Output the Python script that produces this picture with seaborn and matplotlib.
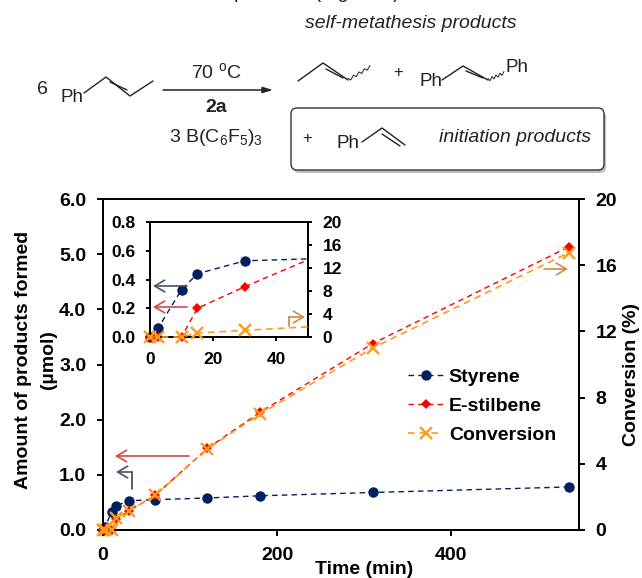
import seaborn as sns
import matplotlib.pyplot as plt
import pandas as pd
from matplotlib.patches import FancyBboxPatch, Rectangle

time_min = [0, 2.5, 10, 15, 30, 60, 120, 180, 310, 535]
styrene = [0.0, 0.06, 0.33, 0.44, 0.53, 0.55, 0.58, 0.62, 0.68, 0.78]
stilbene = [0.0, 0.0, 0.0, 0.2, 0.35, 0.63, 1.48, 2.13, 3.38, 5.13]
conversion = [0.0, 0.0, 0.0, 0.7, 1.15, 2.1, 4.9, 7.0, 11.0, 16.75]

NAVY = '#002060'
RED = '#ff0000'
ORANGE = '#ff9a1a'
FONT = ['Liberation Sans', 'DejaVu Sans']

sns.set_theme(style='white')
plt.rcParams['font.family'] = FONT
plt.rcParams['font.weight'] = 'bold'
plt.rcParams['axes.labelweight'] = 'bold'

W, H = 642, 578
df = pd.DataFrame({'t': time_min, 'styrene': styrene, 'stilbene': stilbene, 'conv': conversion})


def box(x0, y0, x1, y1):
    return [x0 / W, 1 - y1 / H, (x1 - x0) / W, (y1 - y0) / H]


def draw_series(ax, ax_r):
    sns.lineplot(data=df, x='t', y='styrene', ax=ax, color=NAVY, marker='o', markersize=7.5,
                 markeredgewidth=0, linewidth=1, linestyle=(0, (4, 3)), label='Styrene', clip_on=False, zorder=3)
    sns.lineplot(data=df, x='t', y='stilbene', ax=ax, color=RED, marker='D', markersize=5,
                 markeredgewidth=0, linewidth=1, linestyle=(0, (4, 3)), label='E-stilbene', clip_on=False, zorder=4)
    sns.lineplot(data=df, x='t', y='conv', ax=ax_r, color=ORANGE, marker='x', markersize=8,
                 markeredgewidth=1.7, markeredgecolor=ORANGE, linewidth=1.2, linestyle=(0, (4, 3)), label='Conversion',
                 clip_on=False, zorder=5)


def style_axes(ax, ax_r, size, length, pad):
    for a in (ax, ax_r):
        for s in a.spines.values():
            s.set_visible(True)
            s.set_linewidth(1.4)
            s.set_color('black')
        a.tick_params(axis='both', which='major', direction='out', length=length, width=1.4, labelsize=size, pad=pad,
                      color='black', labelcolor='black', left=a is ax, right=a is ax_r, bottom=a is ax)
        a.set_xlabel('')
        a.set_ylabel('')
        a.grid(False)
        a.patch.set_alpha(0)


fig = plt.figure(figsize=(W / 100, H / 100), dpi=100, facecolor='white')

# main plot
ax = fig.add_axes(box(103, 199, 579, 530))
ax_r = ax.twinx()
draw_series(ax, ax_r)
ax.set_xlim(0, 547)
ax.set_ylim(0, 6)
ax_r.set_ylim(0, 20)
ax.set_xticks([0, 200, 400])
ax.set_yticks([0, 1, 2, 3, 4, 5, 6])
ax.set_yticklabels(['%.1f' % v for v in [0, 1, 2, 3, 4, 5, 6]])
ax_r.set_yticks([0, 4, 8, 12, 16, 20])
handles = ax.get_legend_handles_labels()
handles_r = ax_r.get_legend_handles_labels()
ax_r.get_legend().remove()
ax.get_legend().remove()
style_axes(ax, ax_r, 14, 4, 8)
ax_r.legend(handles[0] + handles_r[0], handles[1] + handles_r[1], loc='upper left',
            bbox_to_anchor=((408 - 103) / 476, 1 - (368 - 199) / 331), frameon=False, fontsize=14,
            labelspacing=0.6, handlelength=1.8, handletextpad=0.3, borderpad=0, borderaxespad=0,
            labelcolor='black')

# inset
ins = fig.add_axes(box(150, 222, 308, 337))
ins_r = ins.twinx()
draw_series(ins, ins_r)
ins.get_legend().remove()
ins_r.get_legend().remove()
ins.set_xlim(0, 50)
ins.set_ylim(0, 0.8)
ins_r.set_ylim(0, 20)
ins.set_xticks([0, 20, 40])
ins.set_yticks([0, 0.2, 0.4, 0.6, 0.8])
ins.set_yticklabels(['%.1f' % v for v in [0, 0.2, 0.4, 0.6, 0.8]])
ins_r.set_yticks([0, 4, 8, 12, 16, 20])
style_axes(ins, ins_r, 12.5, 3, 7.5)
# stop the lines at the right edge, markers at zero still stick out left and below
for a in (ins, ins_r):
    for line in a.get_lines():
        line.set_clip_on(True)
        line.set_clip_path(Rectangle((-0.1, -0.1), 1.1, 1.2, transform=a.transAxes))

# reaction scheme, axis titles and callout arrows, pixel coordinates
ov = fig.add_axes([0, 0, 1, 1], zorder=10)
ov.set_xlim(0, W)
ov.set_ylim(H, 0)
ov.axis('off')

ov.text(364, 569, 'Time (min)', fontsize=14, fontweight='bold', ha='center', va='center', color='black')
ov.text(24, 360, 'Amount of products formed', fontsize=14, fontweight='bold', rotation=90, ha='center', va='center', color='black')
ov.text(49, 360, '(µmol)', fontsize=14, fontweight='bold', rotation=90, ha='center', va='center', color='black')
ov.text(631, 375, 'Conversion (%)', fontsize=14, fontweight='bold', rotation=90, ha='center', va='center', color='black')


def bonds(*pts, color='#222222', lw=1.0):
    ov.plot([p[0] for p in pts], [p[1] for p in pts], color=color, lw=lw, solid_capstyle='round')


def label(x, y, s, size=14, **kw):
    ov.text(x, y, s, fontsize=size, ha=kw.pop('ha', 'center'), va='center', color='#222222',
            fontweight=kw.pop('fontweight', 'normal'), **kw)


def wavy(x0, y0, x1, y1):
    n = 8
    xs = [x0 + (x1 - x0) * i / n for i in range(n + 1)]
    ys = [y0 + (y1 - y0) * i / n + (1.6 if i % 2 else -1.6) for i in range(n + 1)]
    ov.plot(xs, ys, color='#222222', lw=0.7)


def callout(pts, color):
    ov.plot([p[0] for p in pts[:-1]], [p[1] for p in pts[:-1]], color=color, lw=1.3)
    ov.annotate('', xy=pts[-1], xytext=pts[-2], arrowprops=dict(arrowstyle='->,head_length=0.6,head_width=0.35',
                                                                color=color, lw=1.2, shrinkA=0, shrinkB=0))


label(320, -6, 'products (Figure 3).')
label(411, 24, 'self-metathesis products', fontstyle='italic')
label(42, 90, '6')
label(72, 97, 'Ph', size=13.5)
bonds((84, 93), (106, 77), (130, 96), (153, 81))
bonds((110, 82), (127, 90))
ov.annotate('', xy=(273, 90), xytext=(163, 90),
            arrowprops=dict(arrowstyle='-|>,head_length=0.5,head_width=0.15', color='#222222', lw=1.1, shrinkA=0, shrinkB=0))
label(216, 72, '70 $\\mathregular{^{o}}$C')
label(216, 108, '2a', fontweight='bold')
label(216, 137, '3 B(C$\\mathregular{_6}$F$\\mathregular{_5}$)$\\mathregular{_3}$')

bonds((298, 81), (323, 63), (348, 80))
bonds((326, 69), (343, 78))
wavy(348, 80, 370, 67)
label(398, 72, '+', size=12)
label(431, 82, 'Ph', size=13.5)
bonds((442, 80), (463, 66), (488, 80))
bonds((466, 71), (483, 78))
wavy(488, 80, 504, 73)
label(517, 68, 'Ph', size=13.5)

ov.add_patch(FancyBboxPatch((293, 111), 313, 62, boxstyle='round,pad=0,rounding_size=6', fc='#b0b0b0', ec='none', alpha=0.8))
ov.add_patch(FancyBboxPatch((291, 108), 313, 62, boxstyle='round,pad=0,rounding_size=6', fc='white', ec='#333333', lw=1))
label(307, 138, '+', size=12)
label(348, 143, 'Ph', size=13.5)
bonds((362, 142), (382, 128), (405, 145))
bonds((382, 134), (400, 146))
label(515, 138, 'initiation products', fontstyle='italic')

callout([(132, 489), (132, 472), (116, 472)], '#44546a')
callout([(189, 456), (115, 456)], '#d04a4a')
callout([(544, 269), (568, 269)], '#d08a4a')
callout([(187, 286), (153, 286)], '#44546a')
callout([(187, 307), (153, 307)], '#d04a4a')
callout([(289, 326), (289, 317), (305, 317)], '#d08a4a')

fig.savefig('out.png', dpi=100)
